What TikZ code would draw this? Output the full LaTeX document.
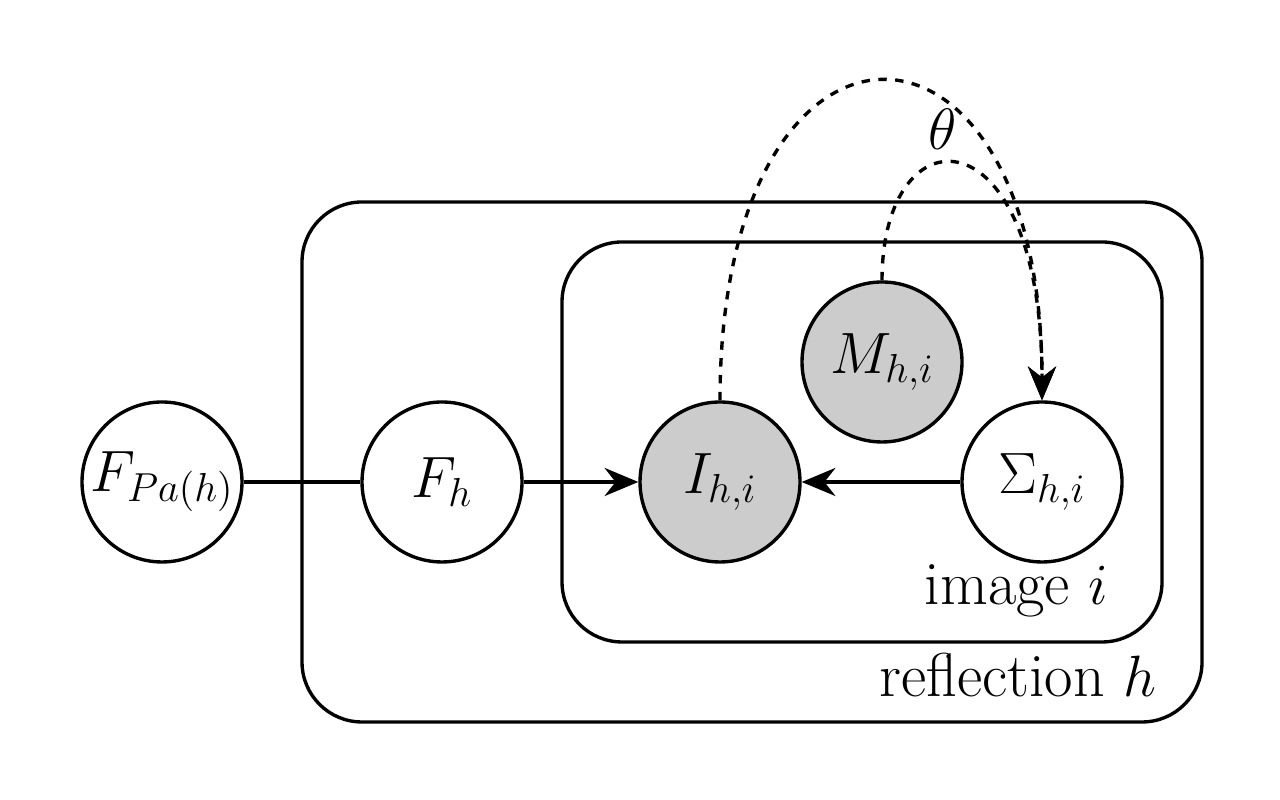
\documentclass[tikz,border=0pt]{standalone}
\usepackage{amsmath,amssymb}
\usepackage{tikz}
\usetikzlibrary{arrows.meta,positioning}

\begin{document}
\begin{tikzpicture}[
  x=1cm,y=1cm,>={Stealth[length=12pt,width=10pt]},
  var/.style={circle,draw,line width=1.2pt,fill=white,minimum size=2cm,inner sep=0pt},
  observed/.style={var,fill=black!20},
  plate/.style={draw,line width=1.2pt,rounded corners=0.75cm},
  edge/.style={line width=1.2pt},
  every node/.style={font=\fontsize{22}{26}\selectfont}
]
  \useasboundingbox (0,0) rectangle (16,10);

  % plates
  \draw[plate] (3.775,0.975) rectangle (15.025,7.475);
  \draw[plate] (7.025,1.975) rectangle (14.525,6.975);
  \node[anchor=south east,inner sep=0pt] (reflabel) at (14.46,1.28) {reflection $h$};
  \node[anchor=south east,inner sep=0pt] (imglabel) at (13.86,2.28) {image $i$};

  % variables
  \node[var] (fpa) at (2.025,3.975) {$F_{Pa(h)}$};
  \node[var] (fh) at (5.525,3.975) {$F_h$};
  \node[observed] (img) at (9.0,3.975) {$I_{h,i}$};
  \node[var] (sig) at (13.025,3.975) {$\Sigma_{h,i}$};
  \node[observed] (mask) at (11.025,5.475) {$M_{h,i}$};

  % edges
  \draw[edge] (fpa) -- (fh);
  \draw[edge,->] (fh) -- (img);
  \draw[edge,->] (sig) -- (img);
  \draw[edge,dashed,->] (img.north) .. controls (9,10.3) and (13.025,10.3) .. (sig.north);
  \draw[edge,dashed,->] (mask.north) .. controls (11.025,8.65) and (13.025,8.65) .. (sig.north)
    node[pos=0.42,above=1pt] (theta) {$\theta$};
\end{tikzpicture}
\end{document}
